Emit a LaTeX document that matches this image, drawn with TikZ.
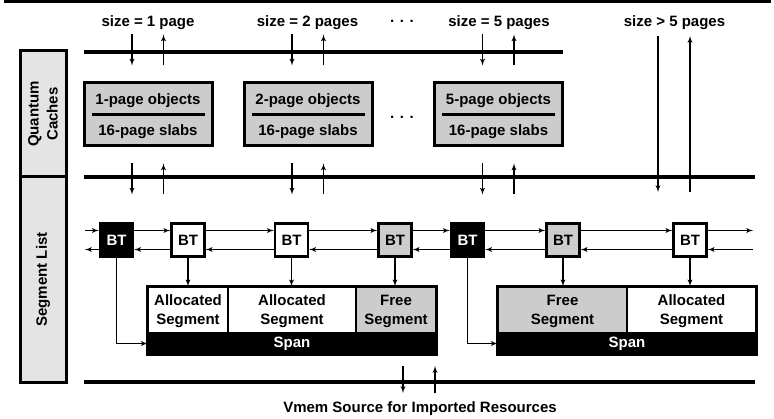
\documentclass[tikz,border=0pt]{standalone}
\usepackage{fontspec}
\setmainfont{Liberation Sans}
\usetikzlibrary{shapes,arrows}
\definecolor{boxgray}{RGB}{204,204,204}
\definecolor{sidegray}{RGB}{228,228,228}
\tikzstyle{side} = [rectangle, draw, line width=3pt, fill=sidegray, rotate=90, minimum height=46pt, align=center]
\tikzstyle{cache} = [rectangle, draw, line width=3pt, fill=boxgray, minimum width=128pt, minimum height=63pt]
\tikzstyle{bt} = [rectangle, draw, line width=2.5pt, minimum size=33pt, inner sep=0pt]
\tikzstyle{seg} = [rectangle, draw, line width=1.5pt, minimum height=46pt, align=center, inner sep=0pt, text depth=0pt]
\tikzstyle{spanbar} = [rectangle, fill=black, text=white, minimum height=21pt, inner sep=0pt]
\tikzstyle{bus} = [draw, line width=4pt]
\tikzstyle{line} = [draw, line width=1.3pt, -latex']
\tikzstyle{lbl} = [inner sep=0pt, text depth=0pt]

\begin{document}
\begin{tikzpicture}[x=1pt, y=1pt, font=\bfseries\fontsize{15}{19}\selectfont]
		\useasboundingbox (0,0) rectangle (774,418);
		\draw [line width=3pt] (4,416) -- (771,416);
		% side labels
		\node [side, minimum width=126pt] (qc) at (43,304) {Quantum\\Caches};
		\node [side, minimum width=205pt] (sl) at (43,138.5) {Segment List};
		% request sizes
		\node [lbl] (s1) at (148,397) {size = 1 page};
		\node [lbl] (s2) at (307.5,397) {size = 2 pages};
		\node [lbl] (dtop) at (402,397) {. . .};
		\node [lbl] (s5) at (499,397) {size = 5 pages};
		\node [lbl] (s6) at (674.5,397) {size > 5 pages};
		% buses
		\draw [bus] (84,366) -- (563,366);
		\draw [bus] (84,241) -- (755,241);
		\draw [bus] (84,36) -- (755,36);
		% quantum caches
		\node [cache] (c1) at (148,303.5) {};
		\node [cache] (c2) at (308,303.5) {};
		\node [lbl] (dmid) at (402,301) {. . .};
		\node [cache] (c5) at (498.5,303.5) {};
		\foreach \c/\n in {c1/1,c2/2,c5/5} {
			\node [lbl] at ([yshift=15.5pt]\c.center) {\n-page objects};
			\node [lbl] at ([yshift=-15.5pt]\c.center) {16-page slabs};
			\draw [line width=3pt] ([xshift=9pt]\c.west) -- ([xshift=-9pt]\c.east);
			\path [line] ([xshift=-16pt,yshift=47pt]\c.north) -- ([xshift=-16pt,yshift=16pt]\c.north);
			\path [line] ([xshift=15.5pt,yshift=16pt]\c.north) -- ([xshift=15.5pt,yshift=47pt]\c.north);
			\path [line] ([xshift=-16pt,yshift=-16pt]\c.south) -- ([xshift=-16pt,yshift=-47pt]\c.south);
			\path [line] ([xshift=15.5pt,yshift=-47pt]\c.south) -- ([xshift=15.5pt,yshift=-16pt]\c.south);
		}
		\coordinate (bigtop) at (658,382);
		\coordinate (bigbot) at (658,226);
		\path [line] (bigtop) -- (bigbot);
		\path [line] ([xshift=32pt]bigbot) -- ([xshift=32pt]bigtop);
		% boundary tags
		\node [bt, fill=black, text=white] (bt1) at (116.5,178) {BT};
		\node [bt, fill=white] (bt2) at (188,178) {BT};
		\node [bt, fill=white] (bt3) at (291.5,178) {BT};
		\node [bt, fill=boxgray] (bt4) at (395,178) {BT};
		\node [bt, fill=black, text=white] (bt5) at (467.5,178) {BT};
		\node [bt, fill=boxgray] (bt6) at (563,178) {BT};
		\node [bt, fill=white] (bt7) at (690,178) {BT};
		\coordinate (headin) at (85,187.5);
		\coordinate (headout) at (85,168.5);
		\coordinate (tailout) at (753,187.5);
		\coordinate (tailin) at (753,168.5);
		\path [line] (headin) -- (headin -| bt1.west);
		\path [line] ([yshift=-9.5pt]bt1.west) -- (headout);
		\foreach \a/\b in {bt1/bt2,bt2/bt3,bt3/bt4,bt4/bt5,bt5/bt6,bt6/bt7} {
			\path [line] ([yshift=9.5pt]\a.east) -- ([yshift=9.5pt]\b.west);
			\path [line] ([yshift=-9.5pt]\b.west) -- ([yshift=-9.5pt]\a.east);
		}
		\path [line] ([yshift=9.5pt]bt7.east) -- (tailout);
		\path [line] (tailin) -- ([yshift=-9.5pt]bt7.east);
		% spans and segments
		\node [seg, fill=white, minimum width=80pt] (seg1) at (188,108) {Allocated\\Segment};
		\node [seg, fill=white, minimum width=128pt] (seg2) at (292,108) {Allocated\\Segment};
		\node [seg, fill=boxgray, minimum width=80pt] (seg3) at (396,108) {Free\\Segment};
		\node [spanbar, minimum width=288pt] (span1) at (292,74.5) {Span};
		\draw [line width=3pt] (seg1.north west) rectangle (span1.south east);
		\node [seg, fill=boxgray, minimum width=129pt] (seg4) at (562.5,108) {Free\\Segment};
		\node [seg, fill=white, minimum width=129pt] (seg5) at (691.5,108) {Allocated\\Segment};
		\node [spanbar, minimum width=258pt] (span2) at (627,74.5) {Span};
		\draw [line width=3pt] (seg4.north west) rectangle (span2.south east);
		\path [line] (bt2.south) -- (bt2.south |- seg1.north);
		\path [line] (bt3.south) -- (bt3.south |- seg2.north);
		\path [line] (bt4.south) -- (bt4.south |- seg3.north);
		\path [line] (bt6.south) -- (bt6.south |- seg4.north);
		\path [line] (bt7.south) -- (bt7.south |- seg5.north);
		\path [line] (bt1.south) |- (span1.west);
		\path [line] (bt5.south) |- (span2.west);
		% vmem source
		\node [lbl] (vm) at (420,11) {Vmem Source for Imported Resources};
		\coordinate (vmtop) at (403,52);
		\coordinate (vmbot) at (403,25);
		\path [line] (vmtop) -- (vmbot);
		\path [line] ([xshift=32pt]vmbot) -- ([xshift=32pt]vmtop);
	\end{tikzpicture}
\end{document}
